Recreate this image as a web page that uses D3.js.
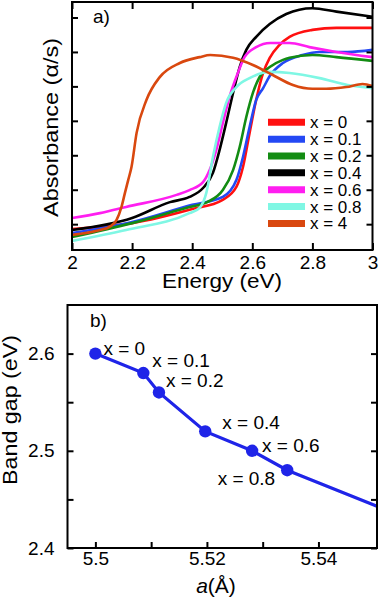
<!DOCTYPE html>
<html>
<head>
<meta charset="utf-8">
<script src="https://cdn.jsdelivr.net/npm/d3@7"></script>
<style>
    body { margin: 0; background: #fff; }
    svg { display: block; font-family: Arial, "Liberation Sans", Helvetica, sans-serif; }
</style>
</head>
<body>
<div id="chart"></div>
<script>
// ---- data ----

// panel a) absorbance spectra, one pair of arrays per sample
const energy0 = [2.0, 2.2, 2.4, 2.5, 2.547, 2.569, 2.591, 2.613, 2.636, 2.658, 2.69, 2.724, 2.8, 2.88, 3.0];
const absorb0 = [0.86, 1.03, 1.44, 1.70, 2.08, 2.66, 3.65, 4.61, 5.39, 5.83, 6.20, 6.44, 6.64, 6.70, 6.70];

const energy01 = [2.0, 2.2, 2.4, 2.502, 2.547, 2.569, 2.591, 2.613, 2.636, 2.658, 2.702, 2.767, 2.824, 2.917, 3.0];
const absorb01 = [0.74, 1.06, 1.56, 1.79, 2.28, 2.95, 3.82, 4.61, 4.95, 5.30, 5.68, 5.91, 6.00, 6.00, 6.06];

const energy02 = [2.0, 2.2, 2.391, 2.45, 2.502, 2.536, 2.558, 2.58, 2.602, 2.624, 2.658, 2.702, 2.724, 2.8, 2.88, 3.0];
const absorb02 = [0.63, 1.03, 1.50, 1.64, 1.99, 2.57, 3.24, 4.11, 4.81, 5.27, 5.56, 5.77, 5.83, 5.91, 5.85, 5.74];

const energy04 = [2.0, 2.2, 2.326, 2.391, 2.436, 2.469, 2.491, 2.513, 2.536, 2.558, 2.58, 2.613, 2.658, 2.713, 2.8, 2.88, 3.0];
const absorb04 = [0.83, 1.18, 1.64, 1.79, 2.05, 2.49, 3.15, 3.94, 4.81, 5.56, 6.06, 6.44, 6.81, 7.10, 7.27, 7.17, 7.02];

const energy06 = [2.0, 2.093, 2.18, 2.348, 2.391, 2.436, 2.458, 2.48, 2.502, 2.524, 2.552, 2.574, 2.613, 2.66, 2.724, 2.79, 2.88, 3.0];
const absorb06 = [1.18, 1.32, 1.50, 1.85, 1.99, 2.22, 2.57, 3.15, 3.94, 4.69, 5.39, 5.85, 6.14, 6.26, 6.26, 6.14, 6.00, 5.85];

const energy08 = [2.0, 2.18, 2.391, 2.424, 2.447, 2.469, 2.491, 2.513, 2.547, 2.591, 2.658, 2.724, 2.824, 2.917, 3.0];
const absorb08 = [0.51, 0.83, 1.32, 1.47, 1.91, 2.95, 3.82, 4.52, 4.98, 5.24, 5.42, 5.39, 5.24, 5.04, 4.95];

const energy4 = [2.0, 2.093, 2.126, 2.148, 2.165, 2.176, 2.187, 2.198, 2.215, 2.248, 2.292, 2.359, 2.425, 2.46, 2.536, 2.602, 2.668, 2.735, 2.8, 2.846, 2.913, 2.967, 3.0];
const absorb4 = [0.69, 0.83, 0.93, 1.12, 1.51, 1.90, 2.28, 2.66, 3.65, 4.61, 5.27, 5.68, 5.85, 5.91, 5.83, 5.62, 5.33, 5.04, 4.93, 4.93, 4.98, 5.07, 5.01];

const sampleNames = ["x = 0", "x = 0.1", "x = 0.2", "x = 0.4", "x = 0.6", "x = 0.8", "x = 4"];
const sampleColors = ["#ff1010", "#2448f4", "#138c13", "#000000", "#ff1ef0", "#7ff7e4", "#d9480f"];
const energyTicks = [2, 2.2, 2.4, 2.6, 2.8, 3];
const absorbTicks = [1, 2, 3, 4, 5, 6, 7];

// panel b) band gap vs lattice parameter
const latticeA = [5.5, 5.5086, 5.5114, 5.5197, 5.5281, 5.5344];
const bandGap = [2.60, 2.58, 2.56, 2.52, 2.50, 2.48];
const pointNames = ["x = 0", "x = 0.1", "x = 0.2", "x = 0.4", "x = 0.6", "x = 0.8"];
// the fitted line runs on past the last sample to the frame
const trendA = [5.5344, 5.5505];
const trendGap = [2.48, 2.443];
const latticeTicks = [5.5, 5.51, 5.52, 5.53, 5.54];
const gapTicks = [2.4, 2.45, 2.5, 2.55, 2.6];

// ---- drawing ----
const width = 380, height = 603;

const svg = d3.select("#chart")
    .append("svg")
    .attr("width", width)
    .attr("height", height);

drawPanelA();
drawPanelB();

// absorbance spectra
function drawPanelA() {
    let left = 72, right = 372.5, top = 2, bottom = 250;

    let x = d3.scaleLinear().domain([2, 3]).range([left, right]);
    let y = d3.scaleLinear().domain([0.25, 7.45]).range([bottom, top]);

    svg.append("clipPath").attr("id", "clipA")
        .append("rect")
        .attr("x", left).attr("y", top)
        .attr("width", right - left).attr("height", bottom - top);

    let series = sampleNames.map(function(name, i) {
        let es = [energy0, energy01, energy02, energy04, energy06, energy08, energy4][i];
        let as = [absorb0, absorb01, absorb02, absorb04, absorb06, absorb08, absorb4][i];
        return { name: name, color: sampleColors[i], values: es.map((e, j) => [e, as[j]]) };
    });

    let line = d3.line()
        .x(d => x(d[0]))
        .y(d => y(d[1]))
        .curve(d3.curveMonotoneX);

    svg.append("g")
        .attr("clip-path", "url(#clipA)")
        .selectAll(".spectrum")
        .data(series)
        .enter()
        .append("path")
        .attr("class", "spectrum")
        .attr("d", d => line(d.values))
        .attr("fill", "none")
        .attr("stroke", d => d.color)
        .attr("stroke-width", 2.6)
        .attr("stroke-linejoin", "round");

    // axes: ticks point inwards on all four sides
    let bottomAxis = svg.append("g")
        .attr("transform", "translate(0," + bottom + ")")
        .call(d3.axisBottom(x).tickValues(energyTicks).tickFormat(d3.format("~g"))
            .tickSize(-7).tickSizeOuter(0).tickPadding(6));
    svg.append("g")
        .attr("transform", "translate(0," + top + ")")
        .call(d3.axisTop(x).tickValues(energyTicks).tickFormat("").tickSize(-7).tickSizeOuter(0));
    svg.append("g")
        .attr("transform", "translate(" + left + ",0)")
        .call(d3.axisLeft(y).tickValues(absorbTicks).tickFormat("").tickSize(-6).tickSizeOuter(0));
    svg.append("g")
        .attr("transform", "translate(" + right + ",0)")
        .call(d3.axisRight(y).tickValues(absorbTicks).tickFormat("").tickSize(-6).tickSizeOuter(0));
    styleAxes();
    bottomAxis.selectAll("text").attr("font-size", 19);

    frame(left, top, right, bottom);

    svg.append("text")
        .attr("x", 93).attr("y", 23)
        .attr("font-size", 19)
        .text("a)");

    svg.append("text")
        .attr("x", 222).attr("y", 288)
        .attr("text-anchor", "middle")
        .attr("font-size", 21)
        .attr("textLength", 120)
        .attr("lengthAdjust", "spacingAndGlyphs")
        .text("Energy (eV)");

    svg.append("text")
        .attr("transform", "translate(58,127.5) rotate(-90)")
        .attr("text-anchor", "middle")
        .attr("font-size", 20)
        .attr("textLength", 179)
        .attr("lengthAdjust", "spacingAndGlyphs")
        .text("Absorbance (\u03b1/s)");

    // legend
    let legend = svg.append("g").selectAll(".legendRow")
        .data(series)
        .enter()
        .append("g")
        .attr("class", "legendRow")
        .attr("transform", (d, i) => "translate(268," + (122.3 + i * 16.85) + ")");
    legend.append("line")
        .attr("x1", 0).attr("x2", 37)
        .attr("stroke", d => d.color)
        .attr("stroke-width", 7);
    legend.append("text")
        .attr("x", 42).attr("y", 6)
        .attr("font-size", 17)
        .text(d => d.name);
}

// band gap against lattice parameter
function drawPanelB() {
    let left = 67.5, right = 377, top = 305, bottom = 548;

    let x = d3.scaleLinear().domain([5.495, 5.5505]).range([left, right]);
    let y = d3.scaleLinear().domain([2.4, 2.65]).range([bottom, top]);

    svg.append("clipPath").attr("id", "clipB")
        .append("rect")
        .attr("x", left).attr("y", top)
        .attr("width", right - left).attr("height", bottom - top);

    let points = latticeA.map((a, i) => ({ a: a, gap: bandGap[i], name: pointNames[i] }));
    let linePts = points.map(p => [p.a, p.gap])
        .concat(trendA.slice(1).map((a, i) => [a, trendGap[i + 1]]));

    let line = d3.line().x(d => x(d[0])).y(d => y(d[1]));

    let g = svg.append("g").attr("clip-path", "url(#clipB)");
    g.append("path")
        .attr("d", line(linePts))
        .attr("fill", "none")
        .attr("stroke", "#1f24e8")
        .attr("stroke-width", 3.2);
    g.selectAll(".dot")
        .data(points)
        .enter()
        .append("circle")
        .attr("class", "dot")
        .attr("cx", d => x(d.a))
        .attr("cy", d => y(d.gap))
        .attr("r", 6.2)
        .attr("fill", "#1f24e8");

    // label offsets from each dot, in px
    let labelOffsets = [[8, 1, "start"], [9, -6, "start"], [7, -5, "start"],
                        [17, -2, "start"], [10, 1, "start"], [-12, 15, "end"]];
    svg.selectAll(".dotLabel")
        .data(points)
        .enter()
        .append("text")
        .attr("class", "dotLabel")
        .attr("x", (d, i) => x(d.a) + labelOffsets[i][0])
        .attr("y", (d, i) => y(d.gap) + labelOffsets[i][1])
        .attr("text-anchor", (d, i) => labelOffsets[i][2])
        .attr("font-size", 19)
        .text(d => d.name);

    let bottomAxis = svg.append("g")
        .attr("transform", "translate(0," + bottom + ")")
        .call(d3.axisBottom(x).tickValues(latticeTicks)
            .tickFormat(d => [5.5, 5.52, 5.54].includes(d) ? d3.format("~g")(d) : "")
            .tickSize(-6).tickSizeOuter(0).tickPadding(4));
    let leftAxis = svg.append("g")
        .attr("transform", "translate(" + left + ",0)")
        .call(d3.axisLeft(y).tickValues(gapTicks)
            .tickFormat(d => [2.4, 2.5, 2.6].includes(d) ? d3.format(".1f")(d) : "")
            .tickSize(-6).tickSizeOuter(0).tickPadding(13));
    svg.append("g")
        .attr("transform", "translate(" + right + ",0)")
        .call(d3.axisRight(y).tickValues(gapTicks).tickFormat("").tickSize(-6).tickSizeOuter(0));
    styleAxes();
    bottomAxis.selectAll("text").attr("font-size", 19);
    leftAxis.selectAll("text").attr("font-size", 19);

    frame(left, top, right, bottom);

    svg.append("text")
        .attr("x", 90).attr("y", 327)
        .attr("font-size", 19)
        .text("b)");

    svg.append("text")
        .attr("transform", "translate(17,410) rotate(-90)")
        .attr("text-anchor", "middle")
        .attr("font-size", 20)
        .attr("textLength", 150)
        .attr("lengthAdjust", "spacingAndGlyphs")
        .text("Band gap (eV)");

    let xTitle = svg.append("text")
        .attr("x", 216).attr("y", 593)
        .attr("text-anchor", "middle")
        .attr("font-size", 21);
    xTitle.append("tspan").attr("font-style", "italic").text("a");
    xTitle.append("tspan").text("(\u00c5)");
}

// common axis look: no domain line (the frame draws it), black ticks
function styleAxes() {
    svg.selectAll(".domain").remove();
    svg.selectAll(".tick line").attr("stroke", "#000").attr("stroke-width", 2);
    svg.selectAll(".tick text").attr("fill", "#000")
        .attr("font-family", "Arial, 'Liberation Sans', Helvetica, sans-serif");
}

function frame(x0, y0, x1, y1) {
    svg.append("rect")
        .attr("x", x0).attr("y", y0)
        .attr("width", x1 - x0).attr("height", y1 - y0)
        .attr("fill", "none")
        .attr("stroke", "#000")
        .attr("stroke-width", 2);
}
</script>
</body>
</html>
